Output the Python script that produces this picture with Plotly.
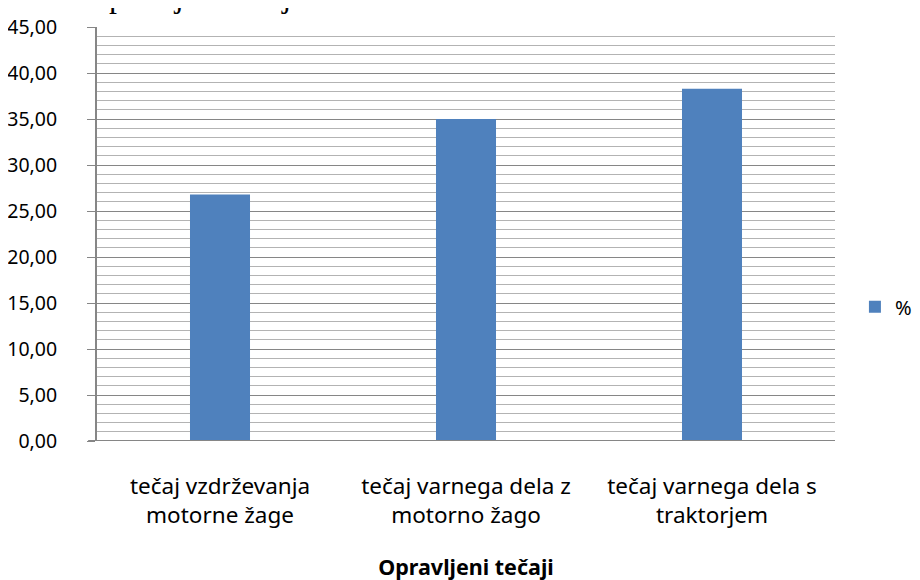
import plotly.graph_objects as go

categories = ["tečaj vzdrževanja<br>motorne žage",
              "tečaj varnega dela z<br>motorno žago",
              "tečaj varnega dela s<br>traktorjem"]
values = [26.8, 35.0, 38.3]
series_name = "%"
tick_vals = [0, 5, 10, 15, 20, 25, 30, 35, 40, 45]
tick_text = ["0,00", "5,00", "10,00", "15,00", "20,00", "25,00", "30,00", "35,00", "40,00", "45,00"]
x_title = "Opravljeni tečaji"
top_title = "Opravljeni tečaji"

fig = go.Figure()
fig.add_trace(go.Bar(x=list(range(len(categories))), y=values, name=series_name,
                     marker=dict(color="#4f81bd", line=dict(width=0)), width=0.244,
                     showlegend=True))

fig.update_layout(
    width=920, height=580,
    margin=dict(l=89, r=93, t=19, b=147, autoexpand=False),
    paper_bgcolor="white", plot_bgcolor="white",
    font=dict(family="Noto Sans", size=18, color="#000000"),
    showlegend=True,
    legend=dict(x=1.027, y=0.324, xanchor="left", yanchor="middle",
                font=dict(family="Noto Sans", size=20), itemwidth=30,
                bgcolor="rgba(0,0,0,0)"),
    xaxis=dict(range=[-0.5, 2.5], tickmode="array", automargin=False,
               tickvals=list(range(len(categories))), ticktext=categories,
               tickfont=dict(family="Noto Sans", size=22.5),
               showgrid=False, zeroline=False, showline=False, ticks="",
               ticklabelstandoff=29,
               title=dict(text="<b>" + x_title + "</b>", standoff=31,
                          font=dict(family="Noto Sans", size=21.5))),
    yaxis=dict(range=[0, 45], tickmode="array", tickvals=tick_vals, ticktext=tick_text,
               automargin=False,
               showgrid=True, gridcolor="#868686", gridwidth=1,
               minor=dict(dtick=1, showgrid=True, gridcolor="#b3b3b3", gridwidth=1, ticks=""),
               zeroline=False, showline=True, linecolor="#868686", linewidth=2,
               ticks="outside", ticklen=8, tickcolor="#868686", tickwidth=1,
               tickfont=dict(family="Noto Sans", size=19.5),
               ticklabelstandoff=26),
)

# x axis baseline
fig.add_shape(type="line", xref="paper", yref="y", x0=-0.012, x1=1, y0=0, y1=0,
              line=dict(color="#868686", width=2))

# title at the very top, cut off by the page edge as in the reference
fig.add_annotation(text=top_title, xref="paper", yref="paper", x=-0.0176, y=1.0265,
                   xanchor="left", yanchor="bottom", showarrow=False,
                   font=dict(family="Liberation Serif", size=32, color="#000000"))

fig.write_html("out.html")
